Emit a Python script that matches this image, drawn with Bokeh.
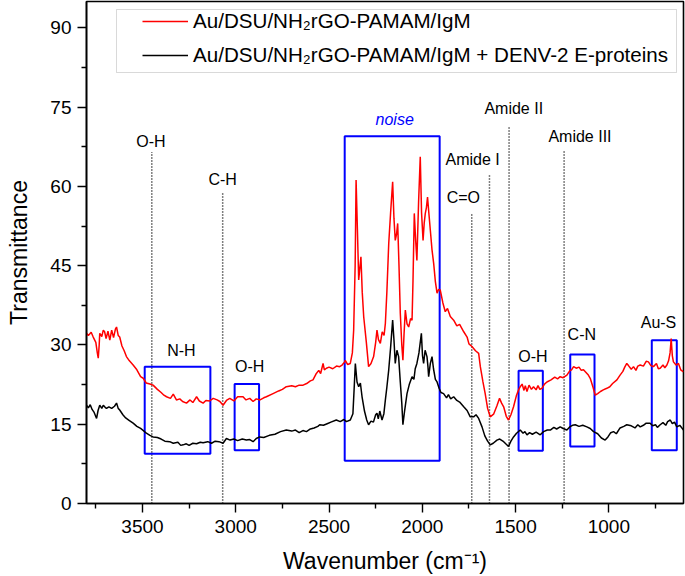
from bokeh.plotting import figure
from bokeh.models import Range1d, FixedTicker, ColumnDataSource, BoxAnnotation
from bokeh.core.properties import value
from bokeh.embed import file_html
from bokeh.resources import INLINE

FONT = "Liberation Sans"

# ---------------- data ----------------
red_wn = [3800, 3790, 3775, 3764, 3750, 3742, 3737, 3732, 3729, 3718, 3710, 3703, 3695, 3685, 3675, 3665,
          3655, 3645, 3639, 3630, 3622, 3610, 3598, 3586, 3570, 3550, 3530, 3510, 3496, 3480, 3460, 3443,
          3420, 3400, 3385, 3371, 3350, 3335, 3318, 3300, 3285, 3264, 3245, 3230, 3210, 3195, 3175, 3160,
          3140, 3121, 3100, 3085, 3068, 3050, 3032, 3010, 2990, 2961, 2945, 2925, 2907, 2890, 2870, 2850,
          2836, 2800, 2770, 2750, 2729, 2700, 2680, 2660, 2639, 2620, 2600, 2586, 2570, 2555, 2545, 2532,
          2525, 2514, 2500, 2480, 2460, 2443, 2430, 2416, 2413, 2400, 2386, 2375, 2368, 2360, 2355, 2348,
          2341, 2335, 2329, 2322, 2314, 2300, 2288, 2275, 2261, 2250, 2243, 2235, 2225, 2215, 2205, 2198,
          2190, 2180, 2170, 2159, 2152, 2145, 2138, 2132, 2125, 2118, 2110, 2104, 2098, 2091, 2082, 2073,
          2063, 2055, 2050, 2043, 2036, 2029, 2020, 2011, 2004, 1996, 1990, 1984, 1978, 1972, 1965, 1957,
          1948, 1939, 1930, 1921, 1913, 1904, 1890, 1877, 1865, 1850, 1832, 1815, 1800, 1778, 1760, 1750,
          1734, 1715, 1698, 1689, 1675, 1663, 1650, 1636, 1618, 1600, 1586, 1575, 1564, 1550, 1538, 1525,
          1511, 1495, 1484, 1475, 1465, 1455, 1448, 1439, 1428, 1415, 1404, 1390, 1380, 1370, 1359, 1345,
          1332, 1310, 1290, 1275, 1261, 1245, 1225, 1210, 1200, 1189, 1175, 1160, 1148, 1136, 1120, 1110,
          1100, 1085, 1073, 1060, 1045, 1030, 1011, 995, 980, 957, 940, 925, 915, 904, 895, 880,
          868, 855, 845, 832, 815, 800, 788, 775, 761, 745, 735, 725, 710, 700, 689, 680,
          672, 666, 660, 654, 640, 627, 615, 600]
red_t = [32.2, 31.8, 32.4, 31.5, 30.5, 28.5, 27.5, 30.0, 32.2, 31.6, 32.8, 32.5, 31.2, 32.6, 30.9, 32.8,
         31.4, 33.0, 33.4, 31.8, 31.5, 29.8, 28.9, 27.8, 27.0, 26.2, 25.3, 24.0, 23.7, 22.8, 22.6, 22.4,
         21.6, 21.0, 20.5, 20.2, 19.9, 20.7, 19.6, 19.8, 19.3, 19.0, 19.6, 19.1, 20.2, 19.4, 19.0, 19.5,
         19.4, 19.9, 19.6, 19.3, 18.6, 19.5, 19.9, 19.4, 20.2, 20.2, 19.6, 19.9, 19.3, 19.8, 19.6, 20.0,
         20.2, 20.8, 21.3, 21.6, 22.1, 22.3, 22.1, 22.4, 22.4, 22.7, 23.2, 23.4, 24.5, 25.2, 24.6, 26.5,
         25.3, 25.6, 25.8, 25.5, 26.0, 25.9, 26.2, 26.8, 27.1, 26.3, 26.5, 28.5, 32.8, 45.0, 61.2, 52.0,
         42.3, 44.5, 46.7, 40.0, 35.3, 30.5, 25.9, 26.5, 27.8, 30.5, 32.8, 31.0, 30.3, 32.5, 31.8, 34.1,
         40.0, 49.2, 55.0, 60.9, 54.0, 49.8, 51.0, 53.0, 45.0, 36.0, 30.0, 27.1, 32.0, 36.6, 34.0, 33.4,
         35.0, 34.7, 42.0, 54.9, 50.0, 46.0, 57.0, 65.6, 55.0, 49.8, 53.0, 54.9, 56.0, 58.0, 55.0, 51.7,
         48.0, 45.4, 42.0, 39.8, 40.5, 40.4, 38.0, 36.3, 36.9, 35.4, 34.7, 33.6, 33.9, 32.5, 31.5, 30.2,
         29.7, 28.9, 28.4, 25.9, 23.0, 20.8, 18.0, 16.4, 16.9, 18.5, 19.9, 19.0, 18.3, 16.5, 15.8, 16.8,
         18.3, 20.5, 21.5, 22.1, 22.6, 21.4, 22.3, 21.2, 22.4, 21.6, 22.1, 21.5, 22.3, 21.6, 21.8, 22.6,
         23.0, 23.4, 23.9, 23.6, 24.0, 23.8, 24.3, 25.1, 25.3, 25.9, 25.6, 25.8, 25.2, 25.3, 24.7, 24.3,
         23.7, 22.0, 20.5, 20.8, 21.2, 21.5, 21.8, 22.1, 22.7, 23.4, 24.3, 25.0, 25.8, 26.5, 26.1, 25.4,
         25.9, 25.2, 26.0, 26.2, 26.0, 26.9, 26.8, 26.1, 25.9, 26.5, 25.5, 25.6, 26.2, 25.7, 26.2, 27.0,
         28.5, 31.2, 28.0, 26.8, 26.2, 26.5, 25.3, 24.9]

black_wn = [3800, 3790, 3780, 3770, 3760, 3746, 3738, 3729, 3718, 3710, 3700, 3693, 3680, 3665, 3650, 3639,
            3630, 3622, 3605, 3590, 3570, 3550, 3530, 3510, 3495, 3479, 3460, 3443, 3420, 3400, 3380, 3354,
            3335, 3310, 3295, 3282, 3265, 3250, 3230, 3210, 3190, 3175, 3150, 3130, 3110, 3090, 3068, 3050,
            3030, 3010, 2990, 2965, 2943, 2925, 2907, 2890, 2872, 2850, 2820, 2790, 2760, 2729, 2700, 2680,
            2660, 2640, 2621, 2600, 2580, 2560, 2550, 2530, 2510, 2490, 2461, 2440, 2420, 2407, 2386, 2372,
            2365, 2359, 2350, 2341, 2332, 2323, 2310, 2298, 2288, 2275, 2262, 2250, 2243, 2236, 2228, 2216,
            2206, 2198, 2190, 2180, 2170, 2159, 2152, 2145, 2136, 2127, 2118, 2110, 2104, 2095, 2082, 2070,
            2055, 2045, 2038, 2029, 2018, 2005, 1999, 1993, 1985, 1975, 1970, 1966, 1957, 1948, 1940, 1930,
            1921, 1910, 1900, 1886, 1870, 1860, 1848, 1832, 1815, 1800, 1778, 1760, 1743, 1725, 1712, 1698,
            1680, 1665, 1650, 1636, 1620, 1600, 1585, 1564, 1550, 1538, 1525, 1511, 1495, 1475, 1460, 1450,
            1439, 1425, 1410, 1390, 1368, 1350, 1330, 1314, 1295, 1280, 1261, 1245, 1225, 1210, 1195, 1180,
            1160, 1140, 1118, 1100, 1082, 1060, 1040, 1020, 1005, 990, 975, 960, 940, 920, 904, 880,
            860, 845, 832, 815, 800, 779, 765, 750, 740, 725, 710, 695, 685, 671, 660, 648,
            636, 620, 600]
black_t = [18.6, 18.1, 18.7, 17.8, 17.3, 16.1, 17.6, 18.6, 18.0, 18.6, 18.2, 18.0, 18.3, 18.0, 18.4, 19.0,
           18.0, 17.7, 16.8, 16.2, 15.7, 15.2, 14.6, 14.2, 13.8, 13.3, 12.9, 12.6, 12.5, 12.2, 11.8, 11.7,
           11.4, 11.6, 11.0, 11.1, 11.3, 11.0, 11.4, 11.3, 11.6, 11.5, 11.7, 11.4, 11.8, 11.7, 11.4, 12.3,
           12.0, 12.2, 11.9, 12.2, 12.0, 12.1, 11.7, 12.3, 12.6, 12.5, 12.9, 13.1, 13.6, 13.9, 13.7, 13.9,
           13.4, 13.8, 13.6, 14.1, 14.3, 14.6, 14.9, 14.8, 15.1, 15.4, 15.8, 15.5, 15.9, 15.5, 15.8, 17.0,
           22.0, 26.5, 23.0, 22.1, 22.8, 20.2, 17.5, 15.8, 14.9, 15.6, 15.4, 16.8, 17.1, 16.0, 17.5, 15.8,
           17.0, 19.6, 22.0, 25.3, 29.5, 34.7, 31.0, 26.5, 29.0, 27.8, 23.0, 19.0, 14.9, 17.5, 20.8, 22.5,
           24.0, 23.5, 25.5, 26.5, 28.5, 32.2, 28.0, 26.5, 29.0, 27.8, 26.0, 24.0, 26.5, 27.8, 25.5, 23.5,
           23.0, 21.8, 21.0, 20.8, 20.0, 20.6, 19.8, 20.2, 19.5, 19.2, 18.3, 17.6, 16.4, 16.4, 16.8, 16.1,
           14.5, 12.8, 11.8, 11.1, 11.4, 12.0, 12.2, 11.7, 11.2, 10.8, 11.8, 12.6, 13.3, 13.9, 13.3, 13.6,
           13.0, 13.4, 13.1, 13.5, 13.0, 13.6, 13.9, 13.9, 14.4, 14.1, 14.5, 14.2, 13.9, 14.5, 14.8, 14.9,
           14.6, 14.8, 14.5, 14.2, 13.6, 13.2, 12.4, 12.0, 12.6, 13.4, 13.6, 13.2, 14.3, 14.6, 14.9, 14.7,
           14.3, 14.9, 14.5, 14.8, 15.2, 15.2, 14.7, 14.9, 14.4, 14.9, 15.3, 14.8, 15.5, 15.8, 15.1, 15.4,
           14.5, 14.8, 13.9]

# vertical dotted marker lines (wavenumber, top of line) and their labels
line_wn = [3450, 3070, 1735, 1640, 1535, 1240]
line_top = [66.5, 58.7, 54.9, 62.1, 71.4, 67.0]
line_names = ["O-H", "C-H", "C=O", "Amide I", "Amide II", "Amide III"]
line_label_wn = [3455, 3070, 1780, 1730, 1510, 1155]
line_label_t = [68.6, 61.3, 58.0, 65.1, 74.7, 69.5]

# blue highlight boxes (wavenumber range, transmittance range) and labels
box_names = ["N-H", "O-H", "noise", "O-H", "C-N", "Au-S"]
box_wn_hi = [3488, 3006, 2416, 1484, 1207, 770]
box_wn_lo = [3136, 2875, 1907, 1354, 1077, 636]
box_t_lo = [9.4, 10.1, 8.1, 10.0, 10.8, 10.1]
box_t_hi = [25.9, 22.6, 69.5, 25.1, 28.2, 30.9]
box_label_wn = [3291, 2925, 2148, 1407, 1145, 734]
box_label_t = [29.0, 26.0, 72.6, 27.8, 31.9, 34.2]

x_ticks = [1000, 1500, 2000, 2500, 3000, 3500]
x_minor = [750, 1250, 1750, 2250, 2750, 3250, 3750]
y_ticks = [0, 15, 30, 45, 60, 75, 90]
y_minor = [7.5, 22.5, 37.5, 52.5, 67.5, 82.5]

series_names = ["Au/DSU/NH\u2082rGO-PAMAM/IgM",
                "Au/DSU/NH\u2082rGO-PAMAM/IgM + DENV-2 E-proteins"]

# ---------------- figure ----------------
p = figure(width=685, height=576, x_range=Range1d(3800, 600), y_range=Range1d(0, 95),
           output_backend="svg", toolbar_location=None,
           min_border_left=86, min_border_right=2, min_border_top=1, min_border_bottom=73)
p.xgrid.visible = False
p.ygrid.visible = False
p.outline_line_color = "black"
p.outline_line_width = 1.6
p.outline_line_alpha = 1.0
p.background_fill_color = "white"

for ax in (p.xaxis[0], p.yaxis[0]):
    ax.axis_line_width = 1.6
    ax.major_tick_in = 0
    ax.major_tick_out = 9
    ax.minor_tick_in = 0
    ax.minor_tick_out = 5
    ax.major_tick_line_width = 1.4
    ax.minor_tick_line_width = 1.4
    ax.major_label_text_font = FONT
    ax.major_label_text_font_size = "19px"
    ax.major_label_text_color = "black"
    ax.axis_label_text_font = FONT
    ax.axis_label_text_font_style = "normal"
    ax.axis_label_text_font_size = "23px"
    ax.axis_label_text_color = "black"

p.xaxis.major_label_standoff = 7
p.yaxis.major_label_standoff = 6
p.xaxis.ticker = FixedTicker(ticks=x_ticks, minor_ticks=x_minor)
p.yaxis.ticker = FixedTicker(ticks=y_ticks, minor_ticks=y_minor)
p.xaxis.axis_label = "Wavenumber (cm\u207b\u00b9)"
p.yaxis.axis_label = "Transmittance"
p.xaxis.axis_label_standoff = 12
p.yaxis.axis_label_standoff = 15

# dotted marker lines
p.segment(x0=line_wn, y0=[0] * len(line_wn), x1=line_wn, y1=line_top,
          line_color="black", line_width=1.5, line_dash="1 2")

# blue boxes
p.quad(left=box_wn_hi, right=box_wn_lo, bottom=box_t_lo, top=box_t_hi,
       fill_alpha=0, line_color="#0000ff", line_width=2)

# spectra
p.line(red_wn, red_t, line_color="#ff0000", line_width=1.5, legend_label=series_names[0])
p.line(black_wn, black_t, line_color="black", line_width=1.5, legend_label=series_names[1])

# labels
src_lines = ColumnDataSource(dict(x=line_label_wn, y=line_label_t, t=line_names))
p.text(x="x", y="y", text="t", source=src_lines, text_align="center", text_baseline="middle",
       text_font=value(FONT), text_font_size="16px", text_color="black")

plain_idx = [i for i, n in enumerate(box_names) if n != "noise"]
noise_idx = [i for i, n in enumerate(box_names) if n == "noise"]
src_boxes = ColumnDataSource(dict(x=[box_label_wn[i] for i in plain_idx],
                                  y=[box_label_t[i] for i in plain_idx],
                                  t=[box_names[i] for i in plain_idx]))
p.text(x="x", y="y", text="t", source=src_boxes, text_align="center", text_baseline="middle",
       text_font=value(FONT), text_font_size="16px", text_color="black")
src_noise = ColumnDataSource(dict(x=[box_label_wn[i] for i in noise_idx],
                                  y=[box_label_t[i] for i in noise_idx],
                                  t=[box_names[i] for i in noise_idx]))
p.text(x="x", y="y", text="t", source=src_noise, text_align="center", text_baseline="middle",
       text_font=value(FONT), text_font_size="16px", text_font_style="italic", text_color="#0000ff")

# legend frame (drawn separately so its padding can be asymmetric)
legend_frame = BoxAnnotation(left=116, right=676, top=9, bottom=72,
                             left_units="canvas", right_units="canvas",
                             top_units="canvas", bottom_units="canvas",
                             fill_color="white", fill_alpha=1.0,
                             line_color="#808080", line_width=1, level="overlay")
p.add_layout(legend_frame)

lg = p.legend[0]
lg.location = (53, 433)
lg.label_text_font = FONT
lg.label_text_font_size = "20.6px"
lg.label_text_color = "black"
lg.glyph_width = 46
lg.glyph_height = 20
lg.label_height = 20
lg.label_standoff = 5
lg.spacing = 10
lg.padding = 3
lg.border_line_alpha = 0
lg.background_fill_alpha = 0

open("out.html", "w").write(file_html(p, INLINE))
